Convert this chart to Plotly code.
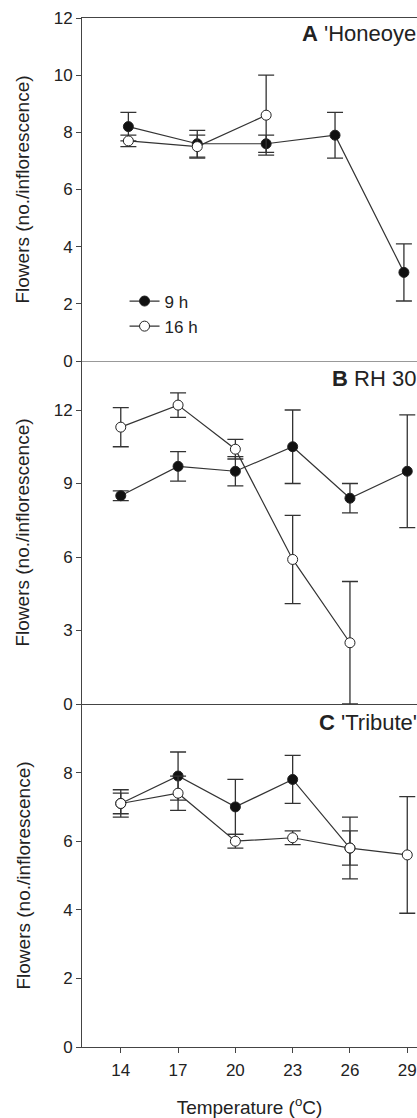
import plotly.graph_objects as go

# ---- data ----
temps_a = [14, 17, 20, 23, 26]
a_9h = [8.2, 7.6, 7.6, 7.9, 3.1]
a_9h_err = [0.5, 0.47, 0.3, 0.8, 1.0]
temps_a16 = [14, 17, 20]
a_16h = [7.7, 7.5, 8.6]
a_16h_err = [0.2, 0.4, 1.4]

temps_b9 = [14, 17, 20, 23, 26, 29]
b_9h = [8.5, 9.7, 9.5, 10.5, 8.4, 9.5]
b_9h_err = [0.2, 0.6, 0.6, 1.5, 0.6, 2.3]
temps_b16 = [14, 17, 20, 23, 26]
b_16h = [11.3, 12.2, 10.4, 5.9, 2.5]
b_16h_err = [0.8, 0.5, 0.4, 1.8, 2.5]

temps_c9 = [14, 17, 20, 23, 26]
c_9h = [7.1, 7.9, 7.0, 7.8, 5.8]
c_9h_err = [0.4, 0.7, 0.8, 0.7, 0.9]
temps_c16 = [14, 17, 20, 23, 26, 29]
c_16h = [7.1, 7.4, 6.0, 6.1, 5.8, 5.6]
c_16h_err = [0.3, 0.5, 0.2, 0.2, 0.5, 1.7]

x_ticks = [14, 17, 20, 23, 26, 29]
series_names = ["9 h", "16 h"]
panel_labels = ["<b>A</b> 'Honeoye'", "<b>B</b> RH 30", "<b>C</b> 'Tribute'"]

FONT = "Liberation Sans, Arial, sans-serif"
LINE = "#333333"
AX = "#444444"
TXT = "#222222"

fig = go.Figure()


def add(x, y, err, filled, xa, ya, show):
    fig.add_trace(go.Scatter(
        x=x, y=y, xaxis=xa, yaxis=ya,
        mode="lines+markers",
        name=series_names[0] if filled else series_names[1],
        showlegend=show,
        line=dict(color=LINE, width=1.2),
        marker=dict(size=10, color="#111111" if filled else "white",
                    line=dict(color="#222222", width=1)),
        error_y=dict(type="data", array=err, visible=True,
                     color=LINE, thickness=1.3, width=8),
        cliponaxis=False,
    ))


add(temps_a, a_9h, a_9h_err, True, "x", "y", True)
add(temps_a16, a_16h, a_16h_err, False, "x", "y", True)
add(temps_b9, b_9h, b_9h_err, True, "x2", "y2", False)
add(temps_b16, b_16h, b_16h_err, False, "x2", "y2", False)
add(temps_c9, c_9h, c_9h_err, True, "x3", "y3", False)
add(temps_c16, c_16h, c_16h_err, False, "x3", "y3", False)


def ybase(standoff):
    return dict(showline=True, linecolor=AX, linewidth=1, ticks="outside", ticklen=5,
                tickcolor=AX, tickfont=dict(size=17, color=TXT, family=FONT),
                showgrid=False,
                title=dict(text="Flowers (no./inflorescence)",
                           font=dict(size=19, color=TXT, family=FONT), standoff=standoff))


fig.update_layout(
    width=417, height=1118,
    margin=dict(l=82, r=0, t=18, b=71),
    paper_bgcolor="white", plot_bgcolor="white",
    font=dict(family=FONT, color=TXT),
    showlegend=True,
    legend=dict(x=0.127, y=0.742, xanchor="left", yanchor="top",
                bgcolor="rgba(0,0,0,0)", font=dict(size=17, color=TXT, family=FONT),
                tracegroupgap=0),
    xaxis=dict(domain=[0, 1], anchor="y", range=[11.98, 26.57], side="top",
               showline=True, linecolor=AX, linewidth=1, showticklabels=False,
               ticks="", showgrid=False, zeroline=False),
    xaxis2=dict(domain=[0, 1], anchor="y2", range=[11.97, 29.51],
                showline=True, linecolor=AX, linewidth=1, showticklabels=False,
                ticks="", showgrid=False, zeroline=False),
    xaxis3=dict(domain=[0, 1], anchor="y3", range=[11.97, 29.51],
                showline=True, linecolor=AX, linewidth=1,
                tickvals=x_ticks, ticks="outside", ticklen=5, tickcolor=AX,
                ticklabelstandoff=3,
                tickfont=dict(size=17, color=TXT, family=FONT),
                showgrid=False, zeroline=False,
                title=dict(text="Temperature (<sup>o</sup>C)", standoff=22,
                           font=dict(size=19, color=TXT, family=FONT))),
    yaxis=dict(domain=[2/3, 1], anchor="x", range=[0, 12], tickvals=[0, 2, 4, 6, 8, 10, 12],
               zeroline=True, zerolinecolor="#999999", zerolinewidth=1, **ybase(19)),
    yaxis2=dict(domain=[1/3, 2/3], anchor="x2", range=[0, 14], tickvals=[0, 3, 6, 9, 12],
                zeroline=False, **ybase(19)),
    yaxis3=dict(domain=[0, 1/3], anchor="x3", range=[0, 10], tickvals=[0, 2, 4, 6, 8],
                zeroline=False, **ybase(27)),
)

label_pos = [(300, 33), (330, 379), (317, 722)]
for (px, py), txt in zip(label_pos, panel_labels):
    fig.add_annotation(text=txt, xref="paper", yref="paper",
                       x=(px - 82) / 335, y=(1047 - py) / 1029,
                       xanchor="left", yanchor="middle", showarrow=False,
                       font=dict(size=22, color=TXT, family=FONT))

fig.write_html("out.html", config={"displayModeBar": False},
               post_script="document.body.style.margin='0px';document.body.style.padding='0px';document.body.style.overflow='hidden';")
